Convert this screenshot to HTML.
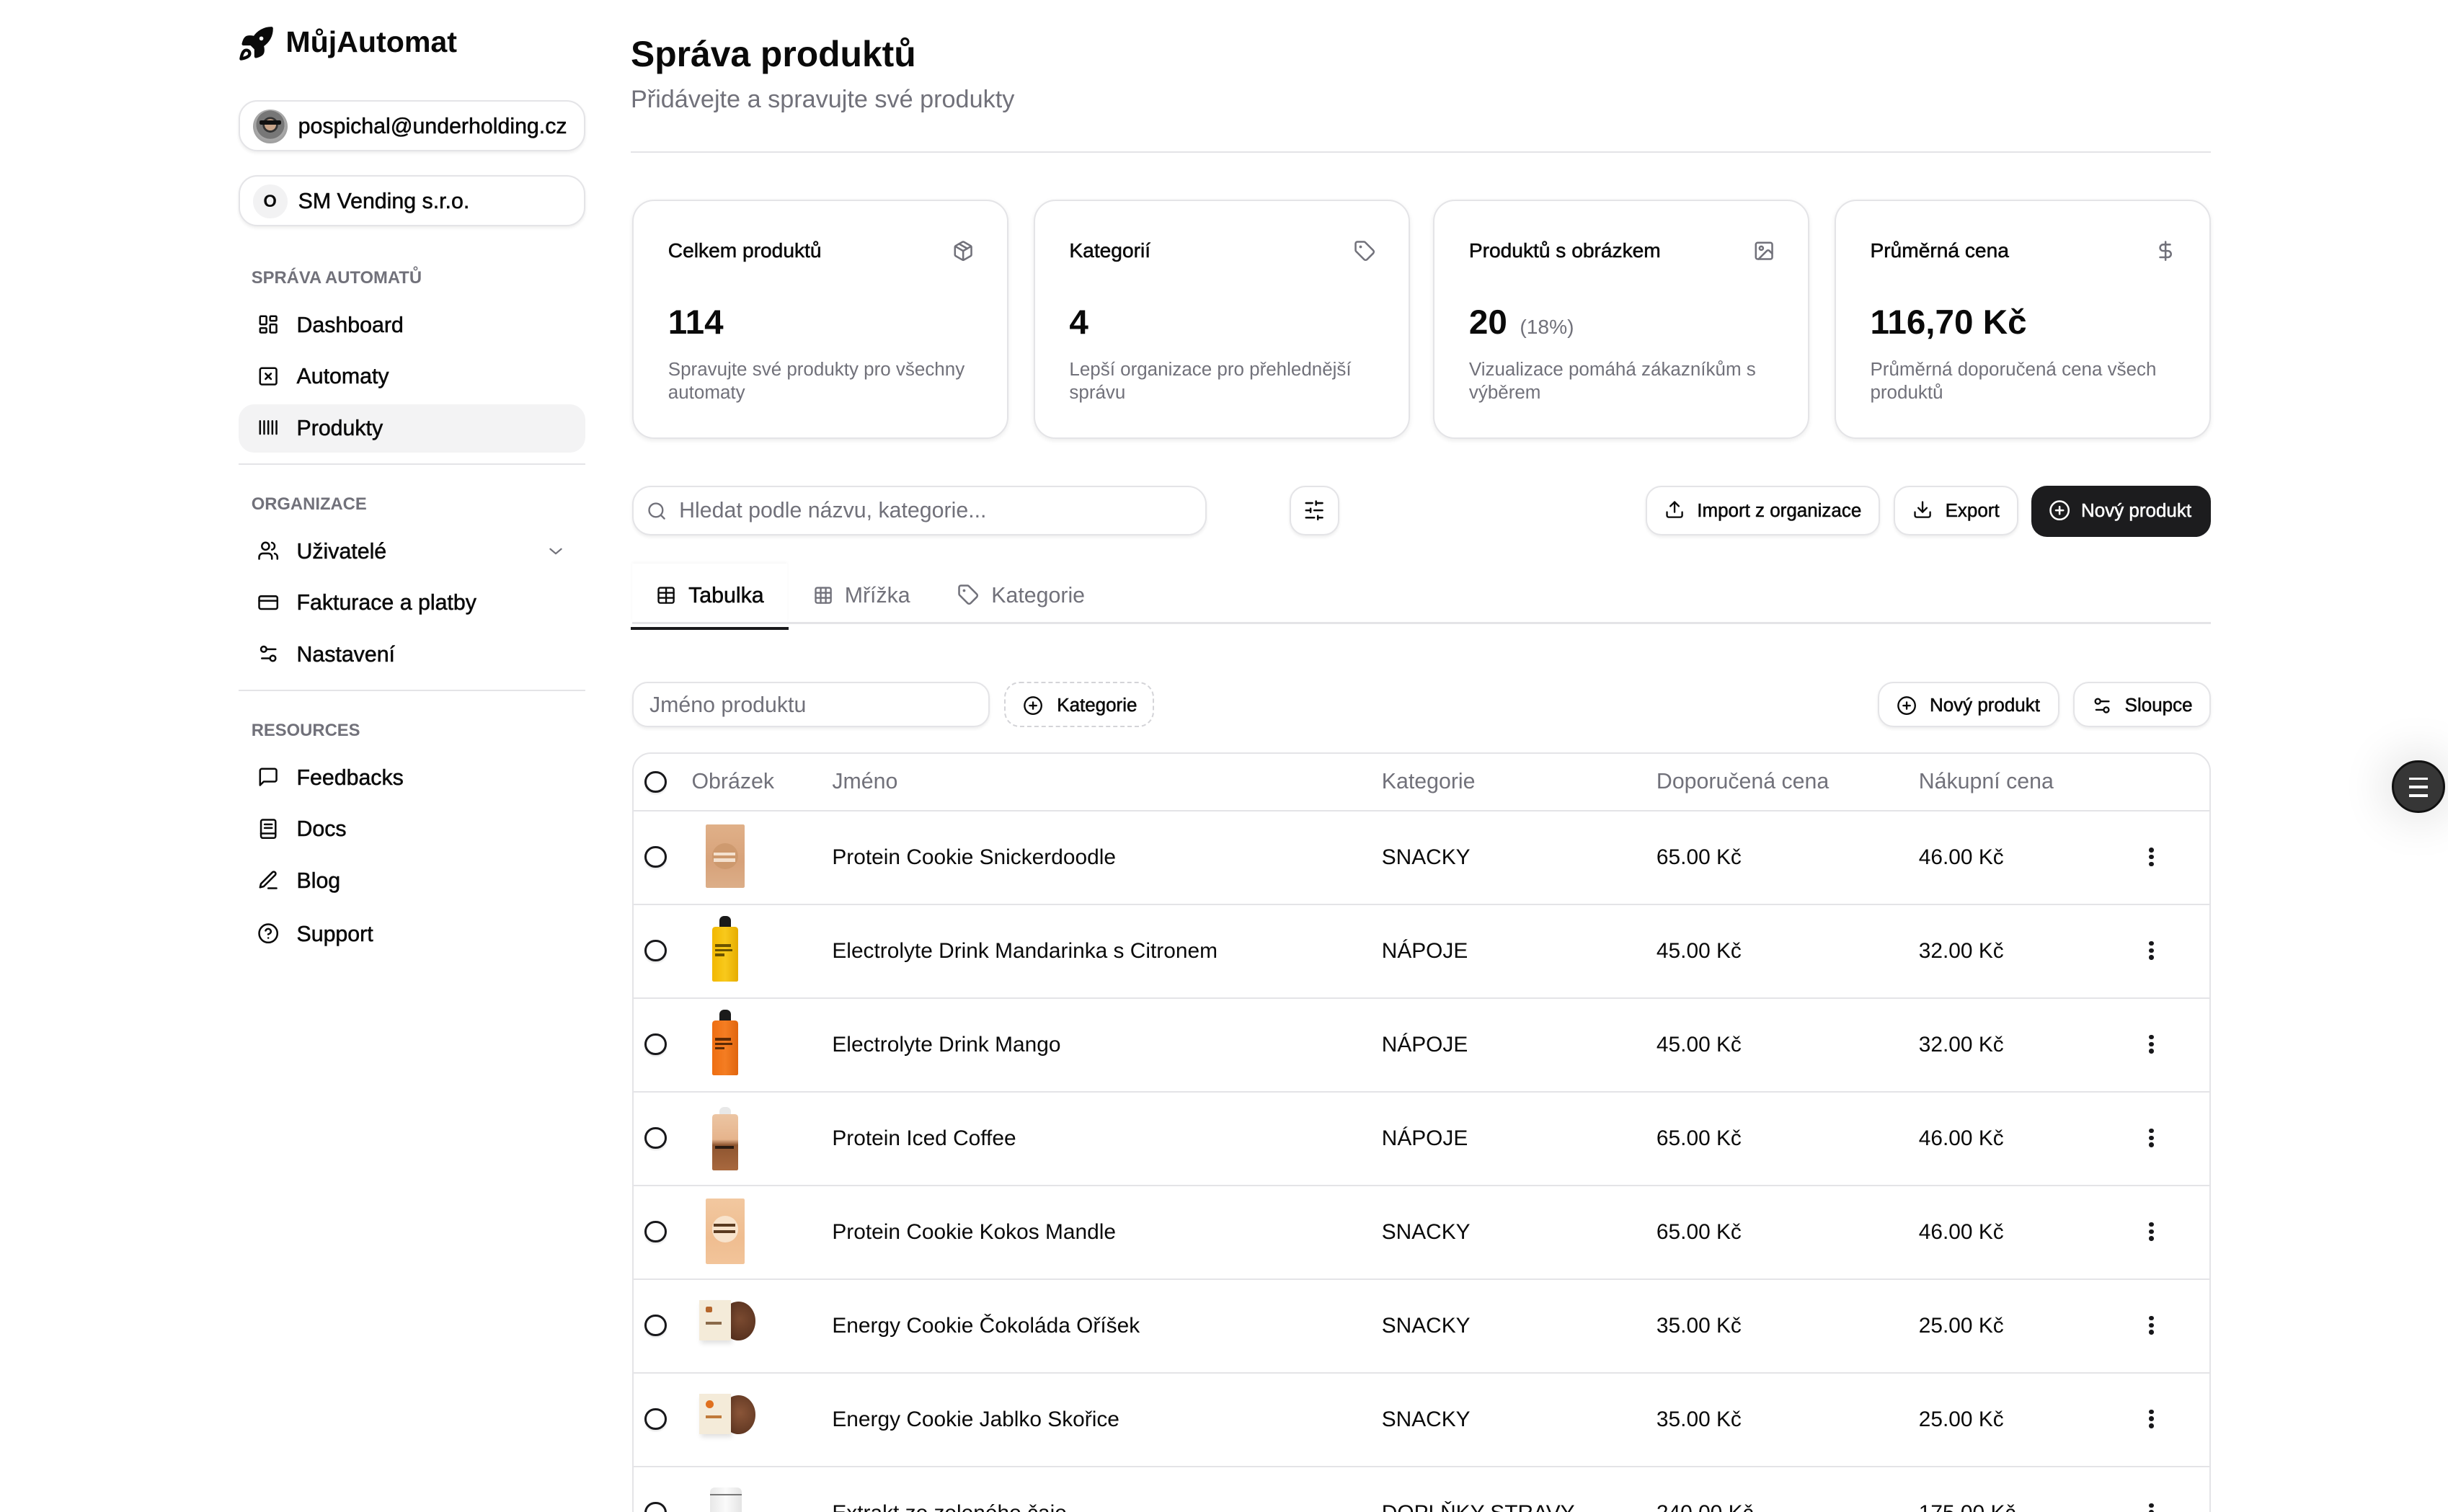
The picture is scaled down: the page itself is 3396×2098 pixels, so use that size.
<!DOCTYPE html>
<html><head><meta charset="utf-8">
<style>
*{box-sizing:border-box;margin:0;padding:0}
html,body{width:3396px;height:2098px;overflow:hidden;background:#fff}
#r{zoom:2.16582;width:1568px;height:969px;position:relative;overflow:hidden;font-family:"Liberation Sans",Arial,sans-serif;color:#0a0a0a;background:#fff}
.a{position:absolute}
.t{position:absolute;line-height:20px;white-space:nowrap}
.m{-webkit-text-stroke:0.25px currentColor}
.g{color:#71717a}
.box{position:absolute;border:1px solid #e4e4e7;border-radius:12px;background:#fff;box-shadow:0 1px 2px rgba(0,0,0,.07)}
svg.i{position:absolute;fill:none;stroke:currentColor;stroke-width:2;stroke-linecap:round;stroke-linejoin:round}
.sec{position:absolute;left:161px;font-size:11px;font-weight:bold;color:#71717a;line-height:16px;white-space:nowrap}
.nav{font-size:14px;margin-top:.5px}
.card{position:absolute;top:128px;width:241px;height:153px;border:1px solid #e4e4e7;border-radius:14px;background:#fff;box-shadow:0 1px 3px rgba(0,0,0,.08)}
.card .ct{position:absolute;left:22px;top:21.5px;font-size:13px;line-height:20px;white-space:nowrap}
.card .cv{position:absolute;left:22px;top:65px;font-size:22px;font-weight:bold;line-height:26px;white-space:nowrap}
.card .cd{position:absolute;left:22px;top:100px;font-size:12px;line-height:15px;color:#71717a;white-space:nowrap}
.card svg{color:#71717a}
.btn{position:absolute;border:1px solid #e4e4e7;border-radius:10px;background:#fff;box-shadow:0 1px 2px rgba(0,0,0,.07)}
.bt{font-size:12px}
.th{font-size:14px;color:#71717a}
.td{font-size:13.8px;margin-top:.5px}
.cb{position:absolute;left:413px;width:14px;height:14px;border:1.4px solid #18181b;border-radius:50%;background:#fff;box-shadow:0 1px 1px rgba(0,0,0,.1)}
.rl{position:absolute;left:406px;width:1009px;height:1px;background:#e4e4e7}
.kb{position:absolute;left:1376.5px;width:3px;height:3px;border-radius:50%;background:#18181b}
</style></head>
<body><div id="r">

<!-- SIDEBAR -->
<svg class="i" style="left:152px;top:16px;color:#0a0a0a" width="24" height="24" viewBox="0 0 24 24" stroke-width="2.4"><path d="M4.5 16.5c-1.5 1.26-2 5-2 5s3.74-.5 5-2c.71-.84.7-2.13-.09-2.91a2.18 2.18 0 0 0-2.91-.09z"/><path d="m12 15-3-3a22 22 0 0 1 2-3.95A12.88 12.88 0 0 1 22 2c0 2.72-.78 7.5-6 11a22.35 22.35 0 0 1-4 2z" fill="#0a0a0a"/><path d="M9 12H4s.55-3.03 2-4c1.62-1.08 5 0 5 0" fill="#0a0a0a"/><path d="M12 15v5s3.03-.55 4-2c1.08-1.62 0-5 0-5" fill="#0a0a0a"/><circle cx="15.5" cy="8.5" r="1.3" fill="#fff" stroke="none"/></svg>
<div class="t" style="left:183px;top:16px;font-size:19px;font-weight:bold;line-height:22px">MůjAutomat</div>

<div class="box" style="left:153px;top:64px;width:222px;height:33px"></div>
<div class="a" style="left:162px;top:70px;width:22px;height:22px;border-radius:50%;background:radial-gradient(circle at 50% 45%,#c9a58a 0 22%,#333 23% 30%,#777 31% 55%,#aaa 56%,#888 100%)"></div>
<div class="a" style="left:166px;top:77px;width:14px;height:3px;background:#111;border-radius:1px"></div>
<div class="t m" style="left:191px;top:71px;font-size:14px">pospichal@underholding.cz</div>

<div class="box" style="left:153px;top:112px;width:222px;height:33px"></div>
<div class="a" style="left:162px;top:118px;width:22px;height:22px;border-radius:50%;background:#f2f2f3;font-size:11px;font-weight:bold;text-align:center;line-height:22px">O</div>
<div class="t m" style="left:191px;top:119px;font-size:14px">SM Vending s.r.o.</div>

<div class="sec" style="top:170.5px">SPRÁVA AUTOMATŮ</div>
<svg class="i" style="left:165px;top:201px" width="14" height="14" viewBox="0 0 24 24"><rect width="7" height="9" x="3" y="3" rx="1"/><rect width="7" height="5" x="14" y="3" rx="1"/><rect width="7" height="9" x="14" y="12" rx="1"/><rect width="7" height="5" x="3" y="16" rx="1"/></svg>
<div class="t m nav" style="left:190px;top:198px">Dashboard</div>
<svg class="i" style="left:165px;top:234px" width="14" height="14" viewBox="0 0 24 24"><rect width="18" height="18" x="3" y="3" rx="2"/><path d="m15 9-6 6"/><path d="m9 9 6 6"/></svg>
<div class="t m nav" style="left:190px;top:231px">Automaty</div>
<div class="a" style="left:153px;top:259px;width:222px;height:31px;border-radius:10px;background:#f3f3f4"></div>
<svg class="i" style="left:165px;top:267px" width="14" height="14" viewBox="0 0 24 24"><path d="M3 5v14M7.5 5v14M12 5v14M16.5 5v14M21 5v14"/></svg>
<div class="t m nav" style="left:190px;top:264px">Produkty</div>
<div class="a" style="left:153px;top:297px;width:222px;height:1px;background:#e4e4e7"></div>

<div class="sec" style="top:315.5px">ORGANIZACE</div>
<svg class="i" style="left:165px;top:346px" width="14" height="14" viewBox="0 0 24 24"><path d="M16 21v-2a4 4 0 0 0-4-4H6a4 4 0 0 0-4 4v2"/><circle cx="9" cy="7" r="4"/><path d="M22 21v-2a4 4 0 0 0-3-3.87"/><path d="M16 3.13a4 4 0 0 1 0 7.75"/></svg>
<div class="t m nav" style="left:190px;top:343px">Uživatelé</div>
<svg class="i g" style="left:350px;top:347px" width="12" height="12" viewBox="0 0 24 24" stroke-width="1.6"><path d="m5 9 7 6 7-6"/></svg>
<svg class="i" style="left:165px;top:379px" width="14" height="14" viewBox="0 0 24 24"><rect width="20" height="14" x="2" y="5" rx="2"/><line x1="2" x2="22" y1="10" y2="10"/></svg>
<div class="t m nav" style="left:190px;top:376px">Fakturace a platby</div>
<svg class="i" style="left:165px;top:412px" width="14" height="14" viewBox="0 0 24 24"><path d="M20 7h-9"/><path d="M14 17H5"/><circle cx="17" cy="17" r="3"/><circle cx="7" cy="7" r="3"/></svg>
<div class="t m nav" style="left:190px;top:409px">Nastavení</div>
<div class="a" style="left:153px;top:442px;width:222px;height:1px;background:#e4e4e7"></div>

<div class="sec" style="top:460.5px">RESOURCES</div>
<svg class="i" style="left:165px;top:491px" width="14" height="14" viewBox="0 0 24 24"><path d="M21 15a2 2 0 0 1-2 2H7l-4 4V5a2 2 0 0 1 2-2h14a2 2 0 0 1 2 2z"/></svg>
<div class="t m nav" style="left:190px;top:488px">Feedbacks</div>
<svg class="i" style="left:165px;top:524px" width="14" height="14" viewBox="0 0 24 24"><rect x="4" y="2" width="16" height="20" rx="2"/><path d="M8 7h8M8 11h8M4 17h16"/></svg>
<div class="t m nav" style="left:190px;top:521px">Docs</div>
<svg class="i" style="left:165px;top:557px" width="14" height="14" viewBox="0 0 24 24"><path d="M12 21h9"/><path d="M16.5 3.5a2.12 2.12 0 0 1 3 3L7 19l-4 1 1-4Z"/></svg>
<div class="t m nav" style="left:190px;top:554px">Blog</div>
<svg class="i" style="left:165px;top:591px" width="14" height="14" viewBox="0 0 24 24"><circle cx="12" cy="12" r="10"/><path d="M9.09 9a3 3 0 0 1 5.83 1c0 2-3 3-3 3"/><path d="M12 17h.01"/></svg>
<div class="t m nav" style="left:190px;top:588px">Support</div>

<!-- HEADER -->
<div class="t" style="left:404px;top:21.5px;font-size:23px;font-weight:bold;line-height:26px">Správa produktů</div>
<div class="t g" style="left:404px;top:54px;font-size:15.8px">Přidávejte a spravujte své produkty</div>
<div class="a" style="left:404px;top:97px;width:1012px;height:1px;background:#e4e4e7"></div>

<!-- CARDS -->
<div class="card" style="left:405px">
  <div class="ct m">Celkem produktů</div>
  <svg class="i" style="left:204px;top:25px" width="14" height="14" viewBox="0 0 24 24"><path d="M11 21.73a2 2 0 0 0 2 0l7-4A2 2 0 0 0 21 16V8a2 2 0 0 0-1-1.730l-7-4a2 2 0 0 0-2 0l-7 4A2 2 0 0 0 3 8v8a2 2 0 0 0 1 1.73z"/><path d="M12 22V12"/><path d="m3.3 7 8.7 5 8.7-5"/><path d="m7.5 4.27 9 5.15"/></svg>
  <div class="cv">114</div>
  <div class="cd">Spravujte své produkty pro všechny<br>automaty</div>
</div>
<div class="card" style="left:662px">
  <div class="ct m">Kategorií</div>
  <svg class="i" style="left:204px;top:25px" width="14" height="14" viewBox="0 0 24 24"><path d="M12.586 2.586A2 2 0 0 0 11.172 2H4a2 2 0 0 0-2 2v7.172a2 2 0 0 0 .586 1.414l8.704 8.704a2.426 2.426 0 0 0 3.420 0l6.58-6.58a2.426 2.426 0 0 0 0-3.42z"/><circle cx="7.5" cy="7.5" r=".5" fill="currentColor"/></svg>
  <div class="cv">4</div>
  <div class="cd">Lepší organizace pro přehlednější<br>správu</div>
</div>
<div class="card" style="left:918px">
  <div class="ct m">Produktů s obrázkem</div>
  <svg class="i" style="left:204px;top:25px" width="14" height="14" viewBox="0 0 24 24"><rect width="18" height="18" x="3" y="3" rx="2"/><circle cx="9" cy="9" r="2"/><path d="m21 15-3.086-3.086a2 2 0 0 0-2.828 0L6 21"/></svg>
  <div class="cv">20 <span style="font-size:13px;font-weight:normal;color:#71717a;margin-left:2px">(18%)</span></div>
  <div class="cd">Vizualizace pomáhá zákazníkům s<br>výběrem</div>
</div>
<div class="card" style="left:1175px">
  <div class="ct m">Průměrná cena</div>
  <svg class="i" style="left:204px;top:25px" width="14" height="14" viewBox="0 0 24 24"><line x1="12" x2="12" y1="2" y2="22"/><path d="M17 5H9.5a3.5 3.5 0 0 0 0 7h5a3.5 3.5 0 0 1 0 7H6"/></svg>
  <div class="cv">116,70 Kč</div>
  <div class="cd">Průměrná doporučená cena všech<br>produktů</div>
</div>

<!-- TOOLBAR -->
<div class="btn" style="left:405px;top:311px;width:368px;height:32px;border-radius:12px"></div>
<svg class="i g" style="left:414px;top:321px" width="13" height="13" viewBox="0 0 24 24"><circle cx="11" cy="11" r="8"/><path d="m21 21-4.3-4.3"/></svg>
<div class="t g" style="left:435px;top:317px;font-size:14px">Hledat podle názvu, kategorie...</div>

<div class="btn" style="left:826px;top:311px;width:32px;height:32px"></div>
<svg class="i" style="left:835px;top:320px" width="14" height="14" viewBox="0 0 24 24"><line x1="21" x2="14" y1="4" y2="4"/><line x1="10" x2="3" y1="4" y2="4"/><line x1="21" x2="12" y1="12" y2="12"/><line x1="8" x2="3" y1="12" y2="12"/><line x1="21" x2="16" y1="20" y2="20"/><line x1="12" x2="3" y1="20" y2="20"/><line x1="14" x2="14" y1="2" y2="6"/><line x1="8" x2="8" y1="10" y2="14"/><line x1="16" x2="16" y1="18" y2="22"/></svg>

<div class="btn" style="left:1054px;top:311px;width:150px;height:32px"></div>
<svg class="i" style="left:1066px;top:320px" width="13" height="13" viewBox="0 0 24 24"><path d="M21 15v4a2 2 0 0 1-2 2H5a2 2 0 0 1-2-2v-4"/><polyline points="17 8 12 3 7 8"/><line x1="12" x2="12" y1="3" y2="15"/></svg>
<div class="t m bt" style="left:1087px;top:317px">Import z organizace</div>
<div class="btn" style="left:1213px;top:311px;width:80px;height:32px"></div>
<svg class="i" style="left:1225px;top:320px" width="13" height="13" viewBox="0 0 24 24"><path d="M21 15v4a2 2 0 0 1-2 2H5a2 2 0 0 1-2-2v-4"/><polyline points="7 10 12 15 17 10"/><line x1="12" x2="12" y1="15" y2="3"/></svg>
<div class="t m bt" style="left:1246px;top:317px">Export</div>
<div class="a" style="left:1301px;top:311px;width:115px;height:33px;border-radius:10px;background:#1c1c1e"></div>
<svg class="i" style="left:1312px;top:320px;color:#fff" width="14" height="14" viewBox="0 0 24 24"><circle cx="12" cy="12" r="10"/><path d="M8 12h8"/><path d="M12 8v8"/></svg>
<div class="t m bt" style="left:1333px;top:317px;color:#fff">Nový produkt</div>

<!-- TABS -->
<div class="a" style="left:405px;top:361px;width:99px;height:38px;background:#fff;box-shadow:0 -1px 2px rgba(0,0,0,.04)"></div>
<div class="a" style="left:405px;top:398.5px;width:1011px;height:1.5px;background:#e4e4e7"></div>
<div class="a" style="left:404px;top:401.5px;width:101px;height:2px;background:#18181b"></div>
<svg class="i" style="left:420px;top:375px" width="13" height="13" viewBox="0 0 24 24" stroke-width="2.2"><rect width="18" height="18" x="3" y="3" rx="2"/><path d="M3 9h18M3 15h18M12 3v18"/></svg>
<div class="t m" style="left:441px;top:371.5px;font-size:14px">Tabulka</div>
<svg class="i g" style="left:521px;top:375px" width="13" height="13" viewBox="0 0 24 24"><rect width="18" height="18" x="3" y="3" rx="2"/><path d="M3 9h18M3 15h18M9 3v18M15 3v18"/></svg>
<div class="t g" style="left:541px;top:371.5px;font-size:14px">Mřížka</div>
<svg class="i g" style="left:613px;top:374px" width="14" height="14" viewBox="0 0 24 24"><path d="M12.586 2.586A2 2 0 0 0 11.172 2H4a2 2 0 0 0-2 2v7.172a2 2 0 0 0 .586 1.414l8.704 8.704a2.426 2.426 0 0 0 3.42 0l6.58-6.58a2.426 2.426 0 0 0 0-3.42z"/><circle cx="7.5" cy="7.5" r=".5" fill="currentColor"/></svg>
<div class="t g" style="left:635px;top:371.5px;font-size:14px">Kategorie</div>

<!-- FILTER ROW -->
<div class="btn" style="left:405px;top:437px;width:229px;height:29px"></div>
<div class="t g" style="left:416px;top:442px;font-size:14px">Jméno produktu</div>
<div class="a" style="left:643px;top:437px;width:96px;height:29px;border:1px dashed #d4d4d8;border-radius:10px"></div>
<svg class="i" style="left:655px;top:445.5px" width="13" height="13" viewBox="0 0 24 24"><circle cx="12" cy="12" r="10"/><path d="M8 12h8"/><path d="M12 8v8"/></svg>
<div class="t m bt" style="left:677px;top:442px">Kategorie</div>

<div class="btn" style="left:1203px;top:437px;width:116px;height:29px"></div>
<svg class="i" style="left:1215px;top:445.5px" width="13" height="13" viewBox="0 0 24 24"><circle cx="12" cy="12" r="10"/><path d="M8 12h8"/><path d="M12 8v8"/></svg>
<div class="t m bt" style="left:1236px;top:442px">Nový produkt</div>
<div class="btn" style="left:1328px;top:437px;width:88px;height:29px"></div>
<svg class="i" style="left:1340px;top:445.5px" width="13" height="13" viewBox="0 0 24 24"><path d="M20 7h-9"/><path d="M14 17H5"/><circle cx="17" cy="17" r="3"/><circle cx="7" cy="7" r="3"/></svg>
<div class="t m bt" style="left:1361px;top:442px">Sloupce</div>

<!-- TABLE -->
<div class="a" style="left:405px;top:482px;width:1011px;height:520px;border:1px solid #e4e4e7;border-radius:12px 12px 0 0;background:#fff"></div>
<div class="rl" style="top:519px"></div>
<div class="cb" style="top:494px"></div>
<div class="t th" style="left:443px;top:491px">Obrázek</div>
<div class="t th" style="left:533px;top:491px">Jméno</div>
<div class="t th" style="left:885px;top:491px">Kategorie</div>
<div class="t th" style="left:1061px;top:491px">Doporučená cena</div>
<div class="t th" style="left:1229px;top:491px">Nákupní cena</div>

<!-- row lines -->
<div class="rl" style="top:579px"></div>
<div class="rl" style="top:639px"></div>
<div class="rl" style="top:699px"></div>
<div class="rl" style="top:759px"></div>
<div class="rl" style="top:819px"></div>
<div class="rl" style="top:879px"></div>
<div class="rl" style="top:939px"></div>

<!-- Row 1 -->
<div class="cb" style="top:542px"></div>
<div class="a" style="left:452px;top:528px;width:25px;height:41px;background:linear-gradient(180deg,#e0b088,#d7a27a 60%,#dcae88);border-radius:1px"></div>
<div class="a" style="left:456px;top:540px;width:17px;height:17px;border-radius:50%;background:#c99468;opacity:.7"></div>
<div class="a" style="left:457px;top:546px;width:14px;height:2px;background:#f4e1cf"></div>
<div class="a" style="left:457px;top:550px;width:14px;height:2px;background:#f4e1cf"></div>
<div class="t td" style="left:533px;top:539px">Protein Cookie Snickerdoodle</div>
<div class="t td" style="left:885px;top:539px">SNACKY</div>
<div class="t td" style="left:1061px;top:539px">65.00 Kč</div>
<div class="t td" style="left:1229px;top:539px">46.00 Kč</div>
<div class="kb" style="top:543px"></div><div class="kb" style="top:547.5px"></div><div class="kb" style="top:552px"></div>

<!-- Row 2 -->
<div class="cb" style="top:602px"></div>
<div class="a" style="left:461px;top:587px;width:7px;height:9px;background:#1a1a1a;border-radius:3px 3px 1px 1px"></div>
<div class="a" style="left:456px;top:594px;width:17px;height:35px;background:linear-gradient(90deg,#f2b800,#f8c91c 50%,#e6ad00);border-radius:2px 2px 1px 1px"></div>
<div class="a" style="left:458px;top:605px;width:10px;height:1.5px;background:#6b5300"></div>
<div class="a" style="left:458px;top:608px;width:11px;height:1.5px;background:#6b5300"></div>
<div class="a" style="left:458px;top:611px;width:6px;height:1.5px;background:#6b5300"></div>
<div class="t td" style="left:533px;top:599px">Electrolyte Drink Mandarinka s Citronem</div>
<div class="t td" style="left:885px;top:599px">NÁPOJE</div>
<div class="t td" style="left:1061px;top:599px">45.00 Kč</div>
<div class="t td" style="left:1229px;top:599px">32.00 Kč</div>
<div class="kb" style="top:603px"></div><div class="kb" style="top:607.5px"></div><div class="kb" style="top:612px"></div>

<!-- Row 3 -->
<div class="cb" style="top:662px"></div>
<div class="a" style="left:461px;top:647px;width:7px;height:9px;background:#1a1a1a;border-radius:3px 3px 1px 1px"></div>
<div class="a" style="left:456px;top:654px;width:17px;height:35px;background:linear-gradient(90deg,#ee6e12,#f47d22 50%,#e0650e);border-radius:2px 2px 1px 1px"></div>
<div class="a" style="left:458px;top:665px;width:10px;height:1.5px;background:#5c2a05"></div>
<div class="a" style="left:458px;top:668px;width:11px;height:1.5px;background:#5c2a05"></div>
<div class="a" style="left:458px;top:671px;width:6px;height:1.5px;background:#5c2a05"></div>
<div class="t td" style="left:533px;top:659px">Electrolyte Drink Mango</div>
<div class="t td" style="left:885px;top:659px">NÁPOJE</div>
<div class="t td" style="left:1061px;top:659px">45.00 Kč</div>
<div class="t td" style="left:1229px;top:659px">32.00 Kč</div>
<div class="kb" style="top:663px"></div><div class="kb" style="top:667.5px"></div><div class="kb" style="top:672px"></div>

<!-- Row 4 -->
<div class="cb" style="top:722px"></div>
<div class="a" style="left:461px;top:709px;width:7px;height:7px;background:#e8e8e8;border-radius:3px"></div>
<div class="a" style="left:456px;top:714px;width:17px;height:36px;background:linear-gradient(180deg,#ecc5a3 0%,#e6b48c 45%,#8e5530 55%,#a8683e 100%);border-radius:2px 2px 1px 1px"></div>
<div class="a" style="left:458px;top:734px;width:12px;height:2px;background:#2a1a10"></div>
<div class="t td" style="left:533px;top:719px">Protein Iced Coffee</div>
<div class="t td" style="left:885px;top:719px">NÁPOJE</div>
<div class="t td" style="left:1061px;top:719px">65.00 Kč</div>
<div class="t td" style="left:1229px;top:719px">46.00 Kč</div>
<div class="kb" style="top:723px"></div><div class="kb" style="top:727.5px"></div><div class="kb" style="top:732px"></div>

<!-- Row 5 -->
<div class="cb" style="top:782px"></div>
<div class="a" style="left:452px;top:768px;width:25px;height:42px;background:linear-gradient(180deg,#f2c8a0,#efbd90 60%,#f2c49a);border-radius:1px"></div>
<div class="a" style="left:456px;top:779px;width:17px;height:17px;border-radius:50%;background:#f8e3cc"></div>
<div class="a" style="left:457px;top:784px;width:14px;height:2px;background:#5a3a20"></div>
<div class="a" style="left:457px;top:788px;width:14px;height:2px;background:#5a3a20"></div>
<div class="t td" style="left:533px;top:779px">Protein Cookie Kokos Mandle</div>
<div class="t td" style="left:885px;top:779px">SNACKY</div>
<div class="t td" style="left:1061px;top:779px">65.00 Kč</div>
<div class="t td" style="left:1229px;top:779px">46.00 Kč</div>
<div class="kb" style="top:783px"></div><div class="kb" style="top:787.5px"></div><div class="kb" style="top:792px"></div>

<!-- Row 6 -->
<div class="cb" style="top:842px"></div>
<div class="a" style="left:462px;top:834px;width:22px;height:25px;border-radius:50%;background:radial-gradient(circle at 55% 45%,#7a4a30,#5a3320 70%,#4a2a18)"></div>
<div class="a" style="left:448px;top:833px;width:20px;height:26px;background:#f4ebd9;box-shadow:1px 2px 3px rgba(0,0,0,.12)"></div>
<div class="a" style="left:452px;top:837px;width:4px;height:4px;background:#b5662c;border-radius:1px"></div>
<div class="a" style="left:452px;top:847px;width:10px;height:1.5px;background:#8a6a4a"></div>
<div class="t td" style="left:533px;top:839px">Energy Cookie Čokoláda Oříšek</div>
<div class="t td" style="left:885px;top:839px">SNACKY</div>
<div class="t td" style="left:1061px;top:839px">35.00 Kč</div>
<div class="t td" style="left:1229px;top:839px">25.00 Kč</div>
<div class="kb" style="top:843px"></div><div class="kb" style="top:847.5px"></div><div class="kb" style="top:852px"></div>

<!-- Row 7 -->
<div class="cb" style="top:902px"></div>
<div class="a" style="left:462px;top:894px;width:22px;height:25px;border-radius:50%;background:radial-gradient(circle at 55% 45%,#8a5538,#643a24 70%,#4a2a18)"></div>
<div class="a" style="left:448px;top:893px;width:20px;height:26px;background:#f4ebd9;box-shadow:1px 2px 3px rgba(0,0,0,.12)"></div>
<div class="a" style="left:452px;top:897px;width:5px;height:5px;background:#e0701e;border-radius:50%"></div>
<div class="a" style="left:452px;top:907px;width:10px;height:1.5px;background:#c07a3a"></div>
<div class="t td" style="left:533px;top:899px">Energy Cookie Jablko Skořice</div>
<div class="t td" style="left:885px;top:899px">SNACKY</div>
<div class="t td" style="left:1061px;top:899px">35.00 Kč</div>
<div class="t td" style="left:1229px;top:899px">25.00 Kč</div>
<div class="kb" style="top:903px"></div><div class="kb" style="top:907.5px"></div><div class="kb" style="top:912px"></div>

<!-- Row 8 -->
<div class="cb" style="top:962px"></div>
<div class="a" style="left:455px;top:953px;width:20px;height:20px;background:linear-gradient(90deg,#e8e8e8,#fafafa 50%,#e4e4e4);border-radius:3px 3px 0 0"></div>
<div class="a" style="left:455px;top:957px;width:20px;height:1px;background:#777"></div>
<div class="t td" style="left:533px;top:959px">Extrakt ze zeleného čaje</div>
<div class="t td" style="left:885px;top:959px">DOPLŇKY STRAVY</div>
<div class="t td" style="left:1061px;top:959px">240.00 Kč</div>
<div class="t td" style="left:1229px;top:959px">175.00 Kč</div>
<div class="kb" style="top:963px"></div><div class="kb" style="top:967.5px"></div>

<!-- FLOATING BUTTON -->
<div class="a" style="left:1532px;top:487px;width:34px;height:34px;border-radius:50%;background:#363636;border:1.5px solid #111;box-shadow:0 0 28px 6px rgba(0,0,0,.10)"></div>
<div class="a" style="left:1543px;top:498px;width:12px;height:1.5px;background:#fff"></div>
<div class="a" style="left:1543px;top:503.5px;width:12px;height:1.5px;background:#fff"></div>
<div class="a" style="left:1543px;top:509px;width:12px;height:1.5px;background:#fff"></div>

</div></body></html>
